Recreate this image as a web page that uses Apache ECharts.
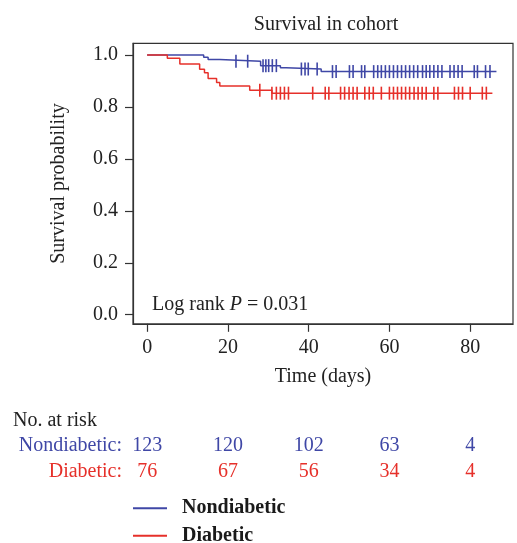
<!DOCTYPE html>
<html>
<head>
<meta charset="utf-8">
<script src="https://cdn.jsdelivr.net/npm/echarts@6/dist/echarts.min.js"></script>
<style>
html,body{margin:0;padding:0;background:#fff;}
#c{width:517px;height:543px;}
</style>
</head>
<body>
<div id="c"></div>
<script>
// ---- data ----
const xTicks = [0, 20, 40, 60, 80];
const yTicks = [0, 0.2, 0.4, 0.6, 0.8, 1.0];

const nondiabTimes = [0, 14.0, 15.1, 18.0, 28.1, 33.0, 34.4, 43.1];
const nondiabSurv  = [1, 0.991, 0.983, 0.976, 0.959, 0.951, 0.946, 0.936];
const nondiabEnd   = 86.5;
const nondiabCensor = [22.0, 24.9, 28.7, 29.4, 30.1, 31.0, 32.0, 38.2, 39.1, 39.9, 42.1,
  45.9, 46.8, 50.1, 51.0, 53.1, 53.9, 56.1, 57.1, 58.0, 59.0, 60.0, 61.0, 62.0, 63.0,
  64.0, 65.0, 66.0, 67.0, 68.2, 69.1, 70.0, 71.0, 72.0, 73.0, 75.0, 76.0, 77.0, 78.0,
  81.0, 81.8, 83.8, 84.9];

const diabTimes = [0, 5.0, 8.1, 13.0, 14.2, 15.1, 17.2, 18.0, 25.4, 30.9];
const diabSurv  = [1, 0.987, 0.965, 0.945, 0.932, 0.909, 0.894, 0.881, 0.864, 0.853];
const diabEnd   = 85.5;
const diabCensor = [27.9, 30.9, 32.0, 33.0, 34.0, 35.0, 41.0, 44.1, 45.0, 47.9, 48.9,
  50.0, 51.0, 52.0, 53.9, 55.0, 56.0, 58.0, 60.0, 61.0, 62.0, 63.0, 64.0, 65.0, 66.1,
  67.1, 68.1, 69.1, 71.0, 72.0, 76.1, 77.1, 78.1, 80.0, 83.0, 84.0];

const riskTimes = [0, 20, 40, 60, 80];
const riskNondiab = [123, 120, 102, 63, 4];
const riskDiab = [76, 67, 56, 34, 4];

const groupNames = ['Nondiabetic', 'Diabetic'];

// ---- helpers ----
const BLUE = '#3f47a6', RED = '#e6302a';
const FONT = '"Liberation Serif", "DejaVu Serif", serif';
const FS = 20;

function stepData(times, surv, end) {
  const d = times.map((t, i) => [t, surv[i]]);
  d.push([end, surv[surv.length - 1]]);
  return d;
}
function survAt(times, surv, t) {
  let s = surv[0];
  for (let i = 0; i < times.length; i++) if (times[i] <= t) s = surv[i];
  return s;
}
function legendFor(name, top) {
  return {
    data: [name], orient: 'vertical', left: 133, top: top, padding: 0,
    icon: 'rect', itemWidth: 34, itemHeight: 2,
    textStyle: {fontFamily: FONT, fontSize: FS, fontWeight: 'bold', color: '#1a1a1a',
      lineHeight: 20, padding: [0, 0, 0, 10]},
    selectedMode: false
  };
}

const chart = echarts.init(document.getElementById('c'), null, {renderer: 'canvas'});

const option = {
  animation: false,
  backgroundColor: '#fff',
  textStyle: {fontFamily: FONT},
  grid: {left: 133, top: 43.3, right: 4, bottom: 219.2, show: true,
    borderColor: '#333', borderWidth: 1.2, backgroundColor: 'transparent'},
  xAxis: {
    type: 'value', min: -3.5, max: 90.6,
    name: 'Time (days)', nameLocation: 'middle', nameGap: 43,
    nameTextStyle: {fontFamily: FONT, fontSize: FS, color: '#222'},
    axisLine: {show: true, onZero: false, lineStyle: {color: '#333', width: 1.2}},
    axisTick: {show: true, length: 8, customValues: xTicks, lineStyle: {color: '#333', width: 1.2}},
    axisLabel: {customValues: xTicks, margin: 14, fontFamily: FONT, fontSize: FS, color: '#222'},
    splitLine: {show: false}
  },
  yAxis: {
    type: 'value', min: -0.035, max: 1.045,
    name: 'Survival probability', nameLocation: 'middle', nameGap: 64,
    nameTextStyle: {fontFamily: FONT, fontSize: FS, color: '#222'},
    axisLine: {show: true, onZero: false, lineStyle: {color: '#333', width: 1.2}},
    axisTick: {show: true, length: 8, customValues: yTicks, lineStyle: {color: '#333', width: 1.2}},
    axisLabel: {customValues: yTicks, margin: 15, fontFamily: FONT, fontSize: FS, color: '#222',
      formatter: v => v.toFixed(1)},
    splitLine: {show: false}
  },
  legend: [legendFor(groupNames[0], 498.3), legendFor(groupNames[1], 525.7)],
  series: [
    {name: groupNames[0], type: 'line', step: 'end', symbol: 'none',
      data: stepData(nondiabTimes, nondiabSurv, nondiabEnd),
      itemStyle: {color: BLUE}, lineStyle: {color: BLUE, width: 1.5}, z: 3},
    {name: groupNames[1], type: 'line', step: 'end', symbol: 'none',
      data: stepData(diabTimes, diabSurv, diabEnd),
      itemStyle: {color: RED}, lineStyle: {color: RED, width: 1.5}, z: 3},
    {name: 'nondiab-censor', type: 'scatter', symbol: 'rect', symbolSize: [1.6, 13], silent: true,
      data: nondiabCensor.map(t => [t, survAt(nondiabTimes, nondiabSurv, t)]),
      itemStyle: {color: BLUE, opacity: 1}, z: 4},
    {name: 'diab-censor', type: 'scatter', symbol: 'rect', symbolSize: [1.6, 13], silent: true,
      data: diabCensor.map(t => [t, survAt(diabTimes, diabSurv, t)]),
      itemStyle: {color: RED, opacity: 1}, z: 4}
  ]
};
chart.setOption(option);

// ---- annotations and number-at-risk table ----
const graphics = [
  {type: 'text', style: {text: 'Survival in cohort', x: 326, y: 25,
    align: 'center', verticalAlign: 'middle', fontFamily: FONT, fontSize: FS, fill: '#222'}},
  {type: 'text', style: {x: 152, y: 305, verticalAlign: 'middle', fontFamily: FONT, fontSize: FS, fill: '#222',
    text: '{a|Log rank }{p|P}{a| = 0.031}',
    rich: {a: {fontFamily: FONT, fontSize: FS, fill: '#222'},
           p: {fontFamily: FONT, fontSize: FS, fontStyle: 'italic', fill: '#222'}}}},
  {type: 'text', style: {x: 13, y: 421, verticalAlign: 'middle', text: 'No. at risk',
    fontFamily: FONT, fontSize: FS, fill: '#222'}},
  {type: 'text', style: {x: 122, y: 446, align: 'right', verticalAlign: 'middle', text: groupNames[0] + ':',
    fontFamily: FONT, fontSize: FS, fill: BLUE}},
  {type: 'text', style: {x: 122, y: 472, align: 'right', verticalAlign: 'middle', text: groupNames[1] + ':',
    fontFamily: FONT, fontSize: FS, fill: RED}}
];
riskTimes.forEach((t, i) => {
  const px = chart.convertToPixel({xAxisIndex: 0}, t);
  graphics.push({type: 'text', style: {x: px, y: 446, align: 'center', verticalAlign: 'middle',
    text: String(riskNondiab[i]), fontFamily: FONT, fontSize: FS, fill: BLUE}});
  graphics.push({type: 'text', style: {x: px, y: 472, align: 'center', verticalAlign: 'middle',
    text: String(riskDiab[i]), fontFamily: FONT, fontSize: FS, fill: RED}});
});
chart.setOption({graphic: graphics});
</script>
</body>
</html>
